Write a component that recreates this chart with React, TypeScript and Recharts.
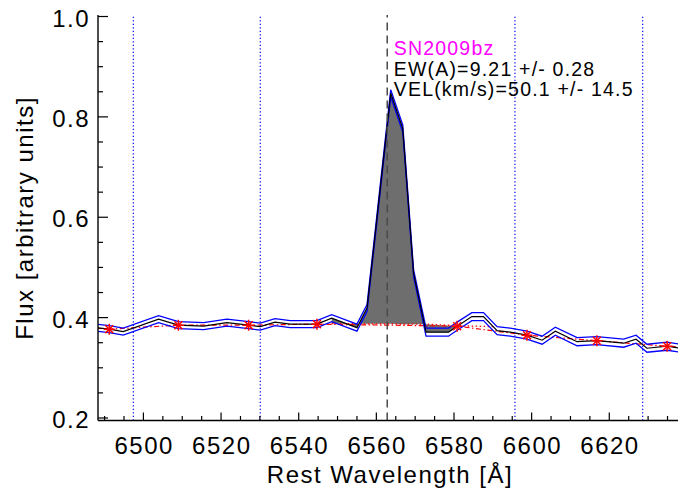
import React from 'react';
import { ComposedChart, Line, Area, Scatter, XAxis, YAxis, ReferenceLine } from 'recharts';

// ---- data ----
const wavelength = [6488.0, 6491.2, 6494.8, 6503.9, 6509.0, 6515.5, 6521.5, 6527.1, 6530.1, 6533.9, 6537.8, 6544.7, 6548.5, 6555.0, 6557.6, 6563.7, 6566.8, 6569.6, 6572.8, 6578.6, 6580.8, 6584.6, 6587.6, 6591.1, 6594.5, 6598.8, 6602.7, 6606.1, 6611.7, 6616.8, 6623.7, 6626.9, 6629.7, 6634.9, 6638.3];
const flux = [0.380, 0.377, 0.372, 0.397, 0.385, 0.383, 0.390, 0.385, 0.382, 0.391, 0.387, 0.387, 0.399, 0.380, 0.419, 0.847, 0.777, 0.488, 0.371, 0.371, 0.383, 0.402, 0.402, 0.374, 0.371, 0.365, 0.355, 0.373, 0.352, 0.354, 0.349, 0.357, 0.339, 0.343, 0.339];
const fluxError = [0.007, 0.007, 0.007, 0.007, 0.007, 0.007, 0.007, 0.007, 0.007, 0.007, 0.007, 0.007, 0.007, 0.007, 0.007, 0.007, 0.007, 0.007, 0.008, 0.008, 0.008, 0.008, 0.008, 0.008, 0.008, 0.008, 0.008, 0.008, 0.008, 0.008, 0.008, 0.008, 0.008, 0.008, 0.008];

const starWavelength = [6491.2, 6509.0, 6527.1, 6544.7, 6580.8, 6598.8, 6616.8, 6634.9];
const starFlux = [0.377, 0.385, 0.385, 0.387, 0.383, 0.365, 0.354, 0.343];

const contWavelength = [6488.0, 6491.2, 6509.0, 6527.1, 6544.7, 6580.8, 6598.8, 6616.8, 6634.9, 6638.3];
const contFlux = [0.379, 0.377, 0.385, 0.385, 0.387, 0.383, 0.365, 0.354, 0.343, 0.342];

const lineRegionWavelength = [6548.5, 6555.0, 6557.6, 6563.7, 6566.8, 6569.6, 6572.8, 6578.6, 6580.8];
const lineRegionContinuum = [0.388, 0.388, 0.388, 0.388, 0.387, 0.387, 0.387, 0.384, 0.384];

const dottedWavelength = [6548.5, 6572.8, 6580.8, 6590.0];
const dottedFlux = [0.388, 0.387, 0.384, 0.382];

const windowLines = [6497.4, 6530.1, 6595.7, 6628.6];
const restLine = 6562.8;

const xMajorTicks = [6500, 6520, 6540, 6560, 6580, 6600, 6620];
const xMinorStep = 5;
const yTicks = [0.2, 0.25, 0.3, 0.35, 0.4, 0.45, 0.5, 0.55, 0.6, 0.65, 0.7, 0.75, 0.8, 0.85, 0.9, 0.95, 1.0];
const xDomain: [number, number] = [6488.3, 6637.7];
const yDomain: [number, number] = [0.195, 1.003];

const annotationName = 'SN2009bz';
const annotationEW = 'EW(A)=9.21 +/- 0.28';
const annotationVel = 'VEL(km/s)=50.1 +/- 14.5';

// ---- build tables ----
const rowMap = new Map<number, any>();
const getRow = (x: number) => {
  if (!rowMap.has(x)) rowMap.set(x, { x });
  return rowMap.get(x);
};
wavelength.forEach((w, i) => {
  const r = getRow(w);
  r.flux = flux[i];
  r.hi = flux[i] + fluxError[i];
  r.lo = flux[i] - fluxError[i];
});
contWavelength.forEach((w, i) => { getRow(w).cont = contFlux[i]; });
lineRegionWavelength.forEach((w, i) => {
  const r = getRow(w);
  r.band = [lineRegionContinuum[i], r.flux];
});
dottedWavelength.forEach((w, i) => { getRow(w).dotted = dottedFlux[i]; });
const tableData = Array.from(rowMap.values()).sort((a, b) => a.x - b.x);
const starData = starWavelength.map((w, i) => ({ x: w, star: starFlux[i] }));

const xTicks: number[] = [];
for (let v = 6490; v <= 6635; v += xMinorStep) xTicks.push(v);

const FONT = '"Liberation Sans", Arial, Helvetica, sans-serif';
const AXIS = '#000';

const isMajorX = (v: number) => xMajorTicks.includes(v);
const isMajorY = (v: number) => Math.abs(v * 5 - Math.round(v * 5)) < 1e-6;

const BottomTick = (p: any) => {
  const { x, y, payload } = p;
  const v = payload.value;
  const major = isMajorX(v);
  return (
    <g>
      <line x1={x} x2={x} y1={y} y2={y - (major ? 8 : 4.5)} stroke={AXIS} strokeWidth={1.2} />
      {major && (
        <text x={x + 0.75} y={y + 33} textAnchor="middle" fontFamily={FONT} fontSize={24} letterSpacing={1.5} fill="#000">
          {v}
        </text>
      )}
    </g>
  );
};
const TopTick = (p: any) => {
  const { x, y, payload } = p;
  const major = isMajorX(payload.value);
  return <line x1={x} x2={x} y1={y} y2={y + (major ? 9 : 4.5)} stroke={AXIS} strokeWidth={1.2} />;
};
const LeftTick = (p: any) => {
  const { x, y, payload } = p;
  const v = payload.value;
  const major = isMajorY(v);
  return (
    <g>
      <line x1={x} x2={x + (major ? 10 : 5)} y1={y} y2={y} stroke={AXIS} strokeWidth={1.2} />
      {major && (
        <text x={x - 8} y={y + 10} textAnchor="end" fontFamily={FONT} fontSize={24} letterSpacing={1.5} fill="#000">
          {v.toFixed(1)}
        </text>
      )}
    </g>
  );
};
const RightTick = (p: any) => {
  const { x, y, payload } = p;
  const major = isMajorY(payload.value);
  return <line x1={x} x2={x - (major ? 10 : 5)} y1={y} y2={y} stroke={AXIS} strokeWidth={1.2} />;
};

const Asterisk = (p: any) => {
  const { cx, cy } = p;
  if (cx == null || cy == null) return <g />;
  const r = 5.5;
  const d = r * 0.72;
  return (
    <g stroke="#ff0000" strokeWidth={1.5}>
      <line x1={cx - r} x2={cx + r} y1={cy} y2={cy} />
      <line x1={cx} x2={cx} y1={cy - r} y2={cy + r} />
      <line x1={cx - d} x2={cx + d} y1={cy - d} y2={cy + d} />
      <line x1={cx - d} x2={cx + d} y1={cy + d} y2={cy - d} />
    </g>
  );
};

const Annotation = (p: any) => {
  const vb = p.viewBox || {};
  const vx = vb.x != null ? vb.x : vb.x1;
  const tx = vx + 6.5;
  return (
    <g fontFamily={FONT} fontSize={19.5} letterSpacing={1.2}>
      <text x={tx} y={54.5} fill="#ff00ff">{annotationName}</text>
      <text x={tx} y={75.5} fill="#000">{annotationEW}</text>
      <text x={tx} y={96} fill="#000">{annotationVel}</text>
    </g>
  );
};

const XTitle = () => (
  <text x={390} y={483} textAnchor="middle" fontFamily={FONT} fontSize={24} letterSpacing={1.5} fill="#000">
    Rest Wavelength [Å]
  </text>
);
const YTitle = () => (
  <text x={33} y={218} transform="rotate(-90 33 218)" textAnchor="middle" fontFamily={FONT} fontSize={24} letterSpacing={1.5} fill="#000">
    Flux [arbitrary units]
  </text>
);

export default function App() {
  return (
    <div style={{ position: 'absolute', left: 0, top: 0, width: 680, height: 488, background: '#fff' }}>
      <ComposedChart width={680} height={488} data={tableData} margin={{ top: 15, right: 2, bottom: 0, left: 38 }}>
        <XAxis
          dataKey="x"
          type="number"
          domain={xDomain}
          allowDataOverflow
          ticks={xTicks}
          interval={0}
          tick={(p: any) => <BottomTick {...p} />}
          tickLine={false}
          tickSize={0}
          tickMargin={0}
          axisLine={{ stroke: AXIS, strokeWidth: 1.4 }}
          height={67.5}
          label={(p: any) => <XTitle />}
        />
        <XAxis
          xAxisId="top"
          orientation="top"
          dataKey="x"
          type="number"
          domain={xDomain}
          allowDataOverflow
          ticks={xTicks}
          interval={0}
          tick={(p: any) => <TopTick {...p} />}
          tickLine={false}
          tickSize={0}
          tickMargin={0}
          axisLine={{ stroke: AXIS, strokeWidth: 1.4 }}
          height={0}
        />
        <YAxis
          type="number"
          domain={yDomain}
          allowDataOverflow
          ticks={yTicks}
          interval={0}
          tick={(p: any) => <LeftTick {...p} />}
          tickLine={false}
          tickSize={0}
          tickMargin={0}
          axisLine={{ stroke: AXIS, strokeWidth: 1.4 }}
          width={60}
          label={(p: any) => <YTitle />}
        />
        <YAxis
          yAxisId="right"
          orientation="right"
          type="number"
          domain={yDomain}
          allowDataOverflow
          ticks={yTicks}
          interval={0}
          tick={(p: any) => <RightTick {...p} />}
          tickLine={false}
          tickSize={0}
          tickMargin={0}
          axisLine={{ stroke: AXIS, strokeWidth: 1.4 }}
          width={0}
        />
        <Area
          dataKey={(d: any) => d.band}
          stroke="none"
          fill="#6e6e6e"
          fillOpacity={1}
          isAnimationActive={false}
          dot={false}
          activeDot={false}
        />
        <Line dataKey="cont" stroke="#ff0000" strokeWidth={1.2} strokeDasharray="5 2.5 1.5 2.5" dot={false} activeDot={false} connectNulls isAnimationActive={false} />
        <Line dataKey="dotted" stroke="#ff0000" strokeWidth={1.3} strokeDasharray="1.5 2.5" dot={false} activeDot={false} connectNulls isAnimationActive={false} />
        <Line dataKey="hi" stroke="#0000ff" strokeWidth={1.3} dot={false} activeDot={false} connectNulls isAnimationActive={false} />
        <Line dataKey="lo" stroke="#0000ff" strokeWidth={1.3} dot={false} activeDot={false} connectNulls isAnimationActive={false} />
        <Line dataKey="flux" stroke="#000000" strokeWidth={1.2} dot={false} activeDot={false} connectNulls isAnimationActive={false} />
        <Scatter data={starData} dataKey="star" shape={(p: any) => <Asterisk {...p} />} isAnimationActive={false} />
        {windowLines.map((w) => (
          <ReferenceLine key={w} x={w} stroke="#0000ff" strokeWidth={1.2} strokeDasharray="1.2 2.3" />
        ))}
        <ReferenceLine x={restLine} stroke="#4a4a4a" strokeWidth={1.5} strokeDasharray="8 5" label={(p: any) => <Annotation {...p} />} />
      </ComposedChart>
    </div>
  );
}
